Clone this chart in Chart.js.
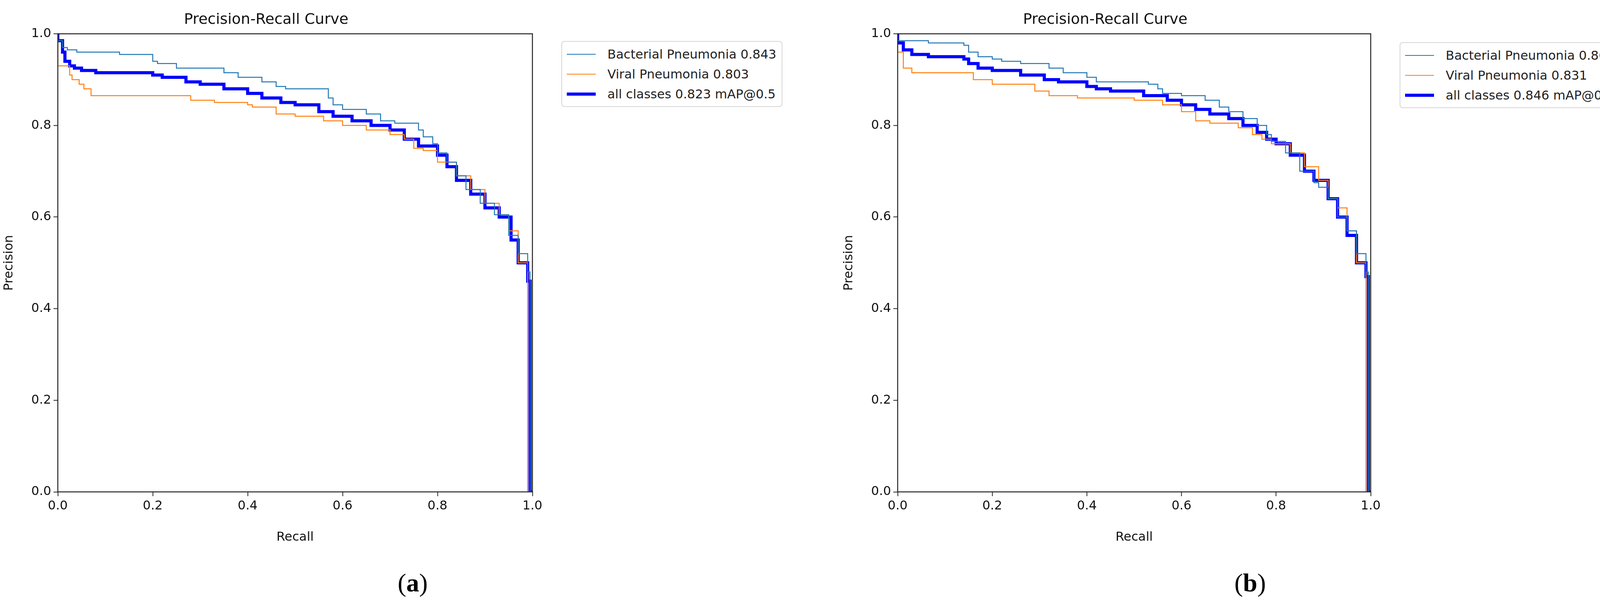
<!DOCTYPE html>
<html><head><meta charset="utf-8">
<script src="https://cdn.jsdelivr.net/npm/chart.js@4.4.1/dist/chart.umd.min.js"></script>
<style>
body{margin:0;width:4217px;height:1560px;background:#fff;position:relative;overflow:hidden;font-family:"DejaVu Sans",sans-serif}
.cv{position:absolute;top:0}
.leg{position:absolute;border:2px solid #d6d6d6;border-radius:8px;background:#fff;padding:6px 14px 6px 12px;font-size:32px;color:#222;white-space:nowrap}
.leg div{display:flex;align-items:center;height:51px}
.leg span.s{display:inline-block;width:74px;margin-right:30px}
.cap{position:absolute;top:1455px;font-family:"Liberation Serif",serif;font-size:66px}
</style></head><body>
<div class="cv" style="left:0;width:2100px;height:1560px"><canvas id="ca" width="2100" height="1560"></canvas></div>
<div class="cv" style="left:2100px;width:2117px;height:1560px"><canvas id="cb" width="2117" height="1560"></canvas></div>
<div class="leg" id="la" style="left:1437px;top:105px"></div>
<div class="leg" id="lb" style="left:3583px;top:108px"></div>
<div class="cap" style="left:1018px">(<b>a</b>)</div>
<div class="cap" style="left:3160px">(<b>b</b>)</div>
<script>
const tickLabels=["0.0","0.2","0.4","0.6","0.8","1.0"];
const labelsA=["Bacterial Pneumonia 0.843","Viral Pneumonia 0.803","all classes 0.823 mAP@0.5"];
const labelsB=["Bacterial Pneumonia 0.862","Viral Pneumonia 0.831","all classes 0.846 mAP@0.5"];
const bactA_x=[0,0.01,0.02,0.04,0.13,0.2,0.21,0.25,0.35,0.38,0.43,0.46,0.48,0.57,0.58,0.6,0.65,0.68,0.71,0.76,0.77,0.79,0.8,0.82,0.84,0.86,0.89,0.92,0.95,0.97,0.99,0.995,1.0];
const bactA_y=[1.0,0.985,0.97,0.965,0.96,0.955,0.94,0.935,0.925,0.915,0.905,0.895,0.885,0.88,0.86,0.845,0.835,0.825,0.81,0.805,0.79,0.775,0.76,0.74,0.72,0.69,0.66,0.63,0.605,0.56,0.52,0.48,0];
const viralA_x=[0,0.025,0.03,0.045,0.055,0.07,0.28,0.33,0.4,0.41,0.46,0.5,0.56,0.6,0.65,0.7,0.73,0.75,0.77,0.8,0.84,0.87,0.9,0.93,0.95,0.97,0.99,1.0];
const viralA_y=[1.0,0.93,0.91,0.9,0.89,0.88,0.865,0.855,0.85,0.845,0.84,0.825,0.82,0.81,0.8,0.79,0.78,0.77,0.75,0.745,0.72,0.69,0.66,0.63,0.605,0.57,0.5,0];
const allA_x=[0,0.01,0.015,0.025,0.035,0.05,0.08,0.2,0.22,0.27,0.3,0.35,0.4,0.43,0.47,0.5,0.55,0.58,0.62,0.66,0.7,0.73,0.76,0.8,0.82,0.84,0.87,0.9,0.93,0.955,0.97,0.99,0.995,1.0];
const allA_y=[1.0,0.985,0.96,0.94,0.93,0.925,0.92,0.915,0.91,0.905,0.895,0.89,0.88,0.87,0.86,0.85,0.845,0.83,0.82,0.81,0.8,0.79,0.77,0.755,0.735,0.71,0.68,0.65,0.62,0.6,0.55,0.5,0.46,0];
const bactB_x=[0,0.065,0.14,0.15,0.17,0.2,0.22,0.26,0.32,0.35,0.4,0.42,0.44,0.53,0.55,0.56,0.6,0.65,0.68,0.7,0.73,0.76,0.78,0.79,0.82,0.85,0.88,0.89,0.91,0.93,0.95,0.97,0.99,0.995,1.0];
const bactB_y=[1.0,0.985,0.98,0.975,0.96,0.95,0.945,0.94,0.935,0.925,0.915,0.905,0.895,0.895,0.89,0.88,0.87,0.865,0.855,0.84,0.83,0.815,0.8,0.78,0.765,0.74,0.7,0.675,0.665,0.64,0.6,0.57,0.52,0.48,0];
const viralB_x=[0,0.012,0.03,0.16,0.2,0.29,0.32,0.38,0.5,0.56,0.6,0.63,0.66,0.72,0.75,0.77,0.79,0.83,0.86,0.89,0.91,0.93,0.95,0.97,0.99,1.0];
const viralB_y=[1.0,0.96,0.925,0.915,0.9,0.89,0.875,0.865,0.86,0.855,0.845,0.83,0.81,0.805,0.795,0.78,0.77,0.76,0.74,0.71,0.68,0.64,0.62,0.57,0.5,0];
const allB_x=[0,0.012,0.03,0.065,0.14,0.15,0.17,0.2,0.26,0.31,0.34,0.4,0.42,0.45,0.52,0.57,0.6,0.63,0.66,0.7,0.73,0.76,0.78,0.8,0.83,0.86,0.88,0.91,0.93,0.95,0.97,0.99,0.995,1.0];
const allB_y=[1.0,0.98,0.965,0.955,0.95,0.945,0.935,0.925,0.92,0.91,0.9,0.895,0.885,0.88,0.875,0.865,0.855,0.845,0.835,0.825,0.815,0.8,0.785,0.77,0.76,0.735,0.7,0.68,0.64,0.6,0.56,0.5,0.47,0];
const colors=["#1f77b4","#ff7f0e","#0000ff"];
const widths=[2.5,2.5,8];
function pts(xs,ys){return xs.map((x,i)=>({x:x,y:ys[i]}));}
const frame={id:'frame',afterDraw(c){const a=c.chartArea,g=c.ctx;g.save();g.strokeStyle='#222';g.lineWidth=2.5;g.strokeRect(a.left,a.top,a.right-a.left,a.bottom-a.top);g.restore();}};
function make(id,series,labels,yw,padL,padR){
  const ds=series.map((s,i)=>({label:labels[i],data:pts(s[0],s[1]),borderColor:colors[i],borderWidth:widths[i],pointRadius:0,stepped:'after',fill:false}));
  const f={family:'DejaVu Sans',size:32};
  new Chart(document.getElementById(id),{type:'line',data:{datasets:ds},plugins:[frame],
  options:{responsive:false,animation:false,devicePixelRatio:1,
   layout:{padding:{left:padL,right:padR,top:0,bottom:160}},
   plugins:{legend:{display:false},tooltip:{enabled:false},
    title:{display:true,text:'Precision-Recall Curve',color:'#111',font:{family:'DejaVu Sans',size:38,weight:'normal'},padding:{top:28,bottom:13}}},
   scales:{
    x:{type:'linear',min:0,max:1,afterFit(s){s.height=140;},
       ticks:{stepSize:0.2,color:'#111',font:f,padding:6,maxRotation:0,callback:(v)=>tickLabels[Math.round(v*5)]},
       grid:{drawOnChartArea:false,tickLength:11,tickColor:'#222',tickWidth:2},border:{display:false},
       title:{display:true,text:'Recall',color:'#111',font:f,padding:{top:6}}},
    y:{min:0,max:1,afterFit(s){s.width=yw;},
       ticks:{stepSize:0.2,color:'#111',font:f,padding:6,callback:(v)=>tickLabels[Math.round(v*5)]},
       grid:{drawOnChartArea:false,tickLength:11,tickColor:'#222',tickWidth:2},border:{display:false},
       title:{display:true,text:'Precision',color:'#111',font:f,padding:{bottom:10}}}}}});
}
function legend(id,labels){
  document.getElementById(id).innerHTML=labels.map((l,i)=>`<div><span class="s" style="border-top:${widths[i]}px solid ${colors[i]}"></span>${l}</div>`).join('');
}
make('ca',[[bactA_x,bactA_y],[viralA_x,viralA_y],[allA_x,allA_y]],labelsA,148,0,737);
make('cb',[[bactB_x,bactB_y],[viralB_x,viralB_y],[allB_x,allB_y]],labelsB,148,50,708);
legend('la',labelsA);legend('lb',labelsB);
</script></body></html>
